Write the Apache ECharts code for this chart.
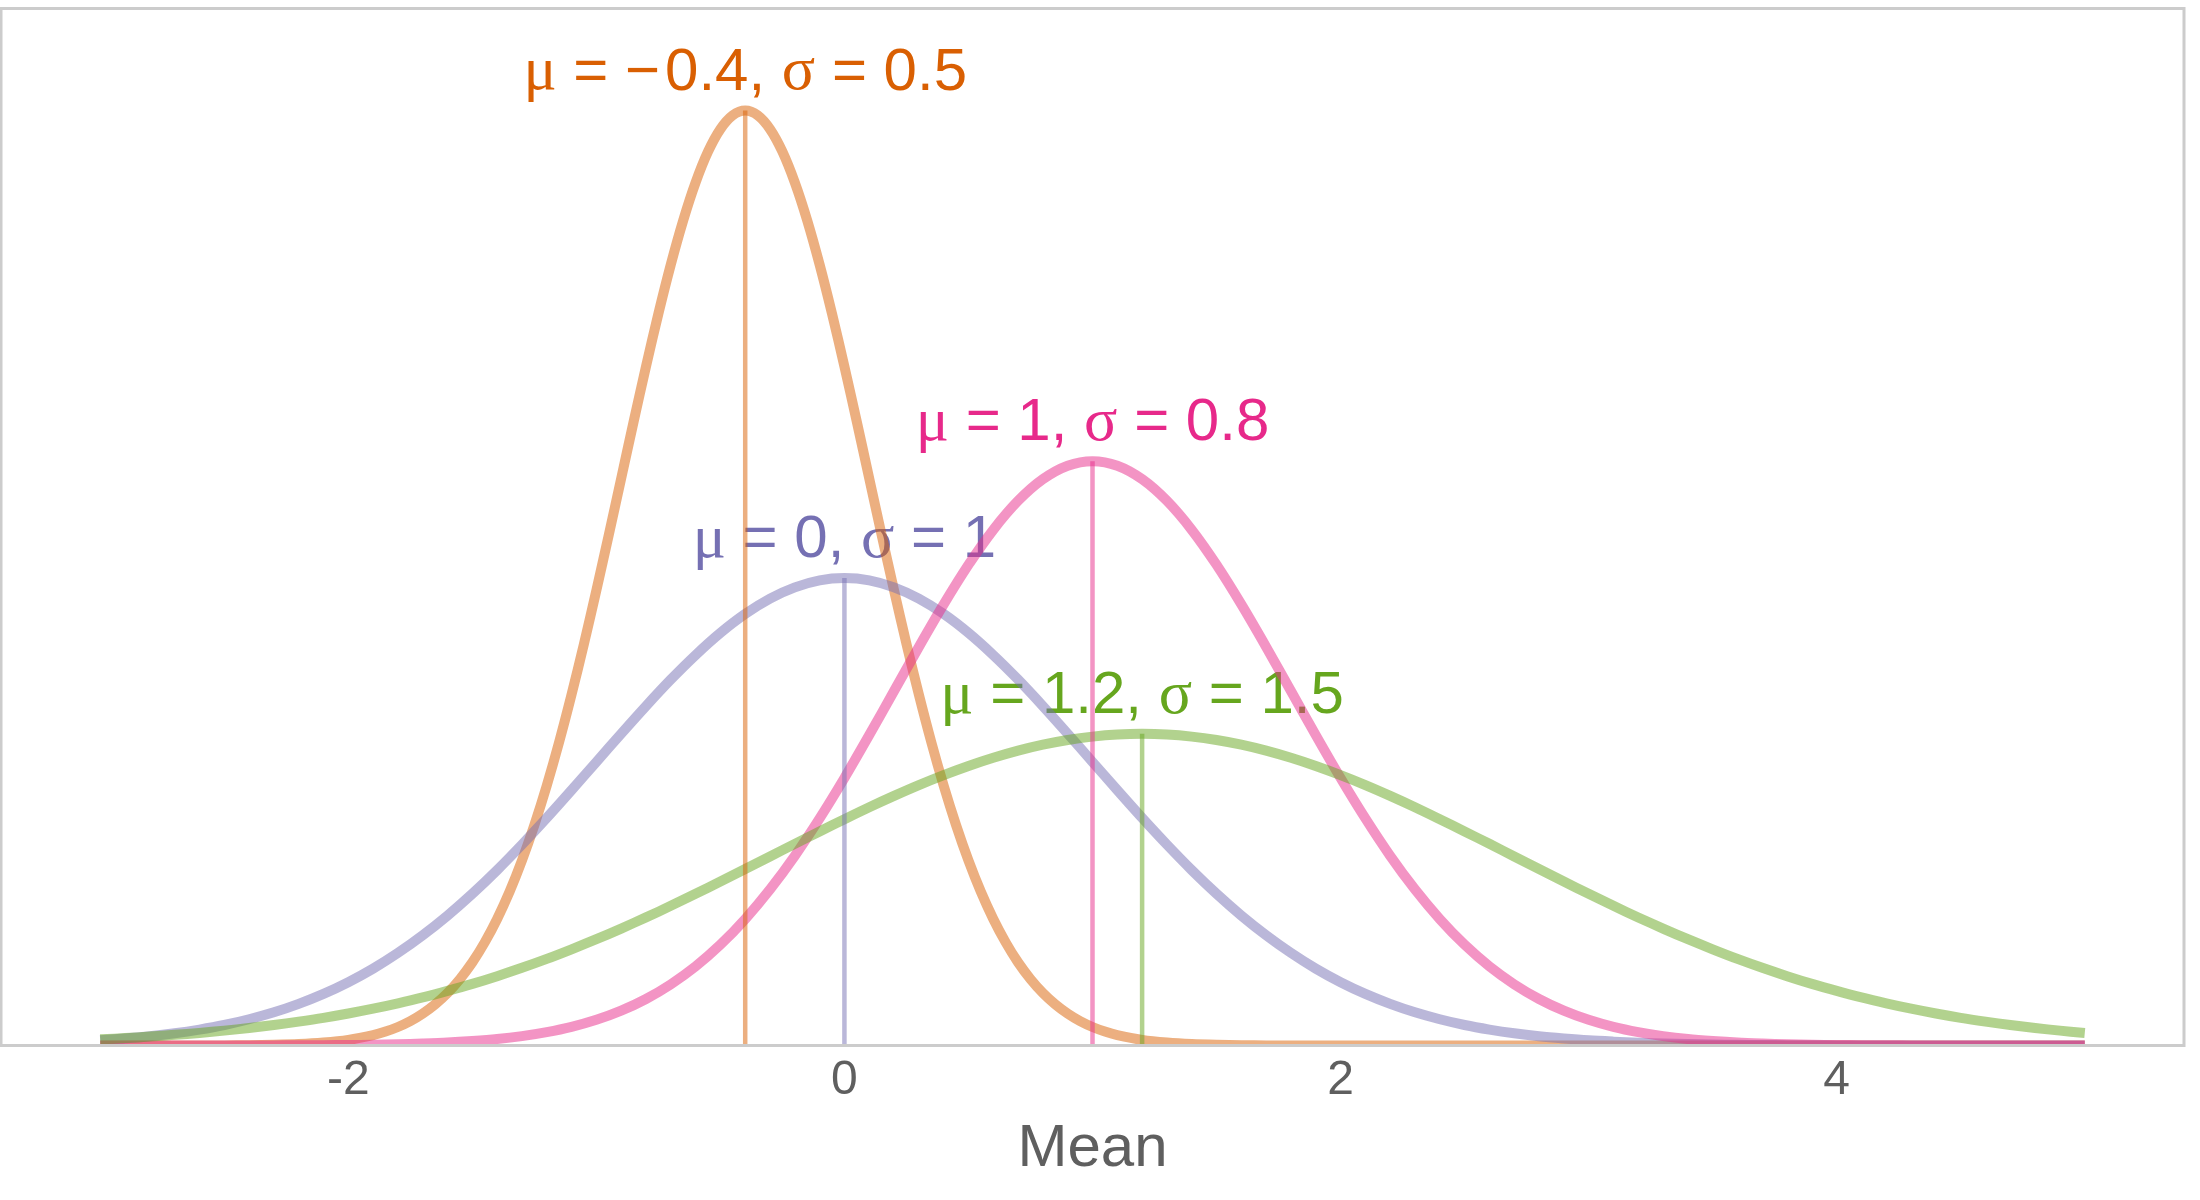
<!DOCTYPE html>
<html>
<head>
<meta charset="utf-8">
<script src="https://cdn.jsdelivr.net/npm/echarts@6/dist/echarts.min.js"></script>
<style>
  html, body { margin: 0; padding: 0; background: #ffffff; }
  #chart { width: 2200px; height: 1200px; }
</style>
</head>
<body>
<div id="chart"></div>
<script>
// x positions at which the wide density curves were read
const xs = [-3.0,-2.9,-2.8,-2.7,-2.6,-2.5,-2.4,-2.3,-2.2,-2.1,-2.0,-1.9,-1.8,-1.7,-1.6,-1.5,-1.4,-1.3,-1.2,-1.1,
  -1.0,-0.9,-0.8,-0.7,-0.6,-0.5,-0.4,-0.3,-0.2,-0.1,0.0,0.1,0.2,0.3,0.4,0.5,0.6,0.7,0.8,0.9,
  1.0,1.1,1.2,1.3,1.4,1.5,1.6,1.7,1.8,1.9,2.0,2.1,2.2,2.3,2.4,2.5,2.6,2.7,2.8,2.9,
  3.0,3.1,3.2,3.3,3.4,3.5,3.6,3.7,3.8,3.9,4.0,4.1,4.2,4.3,4.4,4.5,4.6,4.7,4.8,4.9,5.0];

// x positions for the narrow orange curve (finer around its peak)
const xsOrange = [-3.0,-2.9,-2.8,-2.7,-2.6,-2.5,-2.4,-2.3,-2.2,-2.1,-2.0,
  -1.9,-1.85,-1.8,-1.75,-1.7,-1.65,-1.6,-1.55,-1.5,-1.45,-1.4,-1.35,-1.3,-1.25,-1.2,-1.15,-1.1,-1.05,-1.0,-0.95,
  -0.9,-0.85,-0.8,-0.75,-0.7,-0.65,-0.6,-0.55,-0.5,-0.45,-0.4,-0.35,-0.3,-0.25,-0.2,-0.15,-0.1,-0.05,0.0,0.05,
  0.1,0.15,0.2,0.25,0.3,0.35,0.4,0.45,0.5,0.55,0.6,0.65,0.7,0.75,0.8,0.85,0.9,0.95,1.0,1.05,1.1,
  1.2,1.3,1.4,1.5,1.6,1.7,1.8,1.9,2.0,2.1,2.2,2.3,2.4,2.5,2.6,2.7,2.8,2.9,
  3.0,3.1,3.2,3.3,3.4,3.5,3.6,3.7,3.8,3.9,4.0,4.1,4.2,4.3,4.4,4.5,4.6,4.7,4.8,4.9,5.0];

// mu = -0.4, sigma = 0.5 (orange)
const densOrange = [0,0,0,0,0,0.0001,0.0003,0.0006,0.0012,0.0025,0.0048,
  0.0089,0.0119,0.0158,0.0208,0.0272,0.0351,0.0448,0.0567,0.0709,0.0880,0.1080,0.1312,0.1579,0.1881,0.2218,0.2590,0.2995,0.3427,0.3884,0.4357,
  0.4839,0.5322,0.5794,0.6245,0.6664,0.7041,0.7365,0.7628,0.7821,0.7939,0.7979,0.7939,0.7821,0.7628,0.7365,0.7041,0.6664,0.6245,0.5794,0.5322,
  0.4839,0.4357,0.3884,0.3427,0.2995,0.2590,0.2218,0.1881,0.1579,0.1312,0.1080,0.0880,0.0709,0.0567,0.0448,0.0351,0.0272,0.0208,0.0158,0.0119,0.0089,
  0.0048,0.0025,0.0012,0.0006,0.0003,0.0001,0,0,0,0,0,0,0,0,0,0,0,0,
  0,0,0,0,0,0,0,0,0,0,0,0,0,0,0,0,0,0,0,0,0];

// mu = 0, sigma = 1 (purple)
const densPurple = [0.0044,0.0060,0.0079,0.0104,0.0136,0.0175,0.0224,0.0283,0.0355,0.0440,0.0540,0.0656,0.0790,0.0941,0.1109,0.1295,0.1497,0.1714,0.1942,0.2179,
  0.2420,0.2661,0.2897,0.3123,0.3332,0.3521,0.3683,0.3814,0.3910,0.3970,0.3989,0.3970,0.3910,0.3814,0.3683,0.3521,0.3332,0.3123,0.2897,0.2661,
  0.2420,0.2179,0.1942,0.1714,0.1497,0.1295,0.1109,0.0941,0.0790,0.0656,0.0540,0.0440,0.0355,0.0283,0.0224,0.0175,0.0136,0.0104,0.0079,0.0060,
  0.0044,0.0033,0.0024,0.0017,0.0012,0.0009,0.0006,0.0004,0.0003,0.0002,0.0001,0.0001,0,0,0,0,0,0,0,0,0];

// mu = 1, sigma = 0.8 (pink)
const densPink = [0,0,0,0,0,0,0.0001,0.0001,0.0002,0.0003,0.0004,0.0007,0.0011,0.0017,0.0025,0.0038,0.0055,0.0080,0.0114,0.0159,
  0.0219,0.0297,0.0397,0.0522,0.0675,0.0860,0.1079,0.1332,0.1619,0.1938,0.2283,0.2649,0.3025,0.3401,0.3764,0.4102,0.4401,0.4648,0.4833,0.4948,
  0.4987,0.4948,0.4833,0.4648,0.4401,0.4102,0.3764,0.3401,0.3025,0.2649,0.2283,0.1938,0.1619,0.1332,0.1079,0.0860,0.0675,0.0522,0.0397,0.0297,
  0.0219,0.0159,0.0114,0.0080,0.0055,0.0038,0.0025,0.0017,0.0011,0.0007,0.0004,0.0003,0.0002,0.0001,0.0001,0,0,0,0,0,0];

// mu = 1.2, sigma = 1.5 (green)
const densGreen = [0.0053,0.0063,0.0076,0.0091,0.0107,0.0127,0.0149,0.0175,0.0204,0.0236,0.0273,0.0314,0.0360,0.0410,0.0466,0.0526,0.0592,0.0663,0.0739,0.0821,
  0.0907,0.0998,0.1093,0.1192,0.1295,0.1399,0.1506,0.1613,0.1721,0.1827,0.1931,0.2033,0.2130,0.2222,0.2307,0.2385,0.2455,0.2516,0.2567,0.2607,
  0.2636,0.2654,0.2660,0.2654,0.2636,0.2607,0.2567,0.2516,0.2455,0.2385,0.2307,0.2222,0.2130,0.2033,0.1931,0.1827,0.1721,0.1613,0.1506,0.1399,
  0.1295,0.1192,0.1093,0.0998,0.0907,0.0821,0.0739,0.0663,0.0592,0.0526,0.0466,0.0410,0.0360,0.0314,0.0273,0.0236,0.0204,0.0175,0.0149,0.0127,0.0107];

// annotation data: means, peak heights, label texts
const curveMeans = [-0.4, 0, 1, 1.2];
const curvePeaks = [0.7979, 0.3989, 0.4987, 0.2660];
const curveLabels = [
  '{g|μ} = −\u200a0.4, {g|σ} = 0.5',
  '{g|μ} = 0, {g|σ} = 1',
  '{g|μ} = 1, {g|σ} = 0.8',
  '{g|μ} = 1.2, {g|σ} = 1.5'
];
const curveColors = ['#D95F02', '#7570B3', '#E7298A', '#66A61E'];
const curveX = [xsOrange, xs, xs, xs];
const curveDens = [densOrange, densPurple, densPink, densGreen];

const xTicks = [-2, 0, 2, 4];
const xName = 'Mean';

const GRID = { left: 1, right: 16, top: 8.5, bottom: 154.5 };

const series = [];
// labels (beneath lines)
curveMeans.forEach((m, i) => {
  series.push({
    type: 'scatter',
    z: 1,
    symbolSize: 1,
    itemStyle: { color: 'rgba(0,0,0,0)', opacity: 1 },
    silent: true,
    data: [[m, curvePeaks[i]]],
    label: {
      show: true,
      position: 'top',
      distance: 6,
      formatter: curveLabels[i],
      color: curveColors[i],
      opacity: 1,
      fontFamily: 'Liberation Sans',
      fontSize: 60,
      rich: {
        g: { fontFamily: 'Liberation Serif', fontSize: 62, color: curveColors[i] }
      }
    }
  });
});
// curves
curveDens.forEach((d, i) => {
  const xv = curveX[i];
  series.push({
    type: 'line',
    z: 3,
    smooth: 0.3,
    symbol: 'none',
    data: xv.map((x, k) => [x, d[k]]),
    lineStyle: { color: curveColors[i], width: 10, opacity: 0.5, join: 'round' }
  });
});
// vertical mean lines
curveMeans.forEach((m, i) => {
  series.push({
    type: 'line',
    z: 3,
    symbol: 'none',
    data: [[m, 0], [m, curvePeaks[i]]],
    lineStyle: { color: curveColors[i], width: 4.5, opacity: 0.5 }
  });
});

const chart = echarts.init(document.getElementById('chart'), null, { renderer: 'canvas' });
chart.setOption({
  animation: false,
  backgroundColor: '#ffffff',
  textStyle: { fontFamily: 'Liberation Sans' },
  grid: { left: GRID.left, right: GRID.right, top: GRID.top, bottom: GRID.bottom, show: false },
  xAxis: {
    type: 'value',
    min: -3.4,
    max: 5.4,
    axisLine: { show: false },
    axisTick: { show: false },
    splitLine: { show: false },
    axisLabel: {
      customValues: xTicks,
      fontSize: 48,
      color: '#5f5f5f',
      margin: 11,
      fontFamily: 'Liberation Sans'
    },
    name: xName,
    nameLocation: 'middle',
    nameGap: 74,
    nameTextStyle: { fontSize: 60, color: '#5f5f5f', fontFamily: 'Liberation Sans' }
  },
  yAxis: {
    type: 'value',
    min: 0,
    max: 0.885,
    axisLine: { show: false },
    axisTick: { show: false },
    axisLabel: { show: false },
    splitLine: { show: false }
  },
  graphic: [
    {
      type: 'rect', z: 90, silent: true,
      shape: { x: 0, y: 1200 - GRID.bottom + 1.5, width: 2200, height: 5 },
      style: { fill: '#ffffff' }
    },
    {
      type: 'rect', z: 100, silent: true,
      shape: { x: GRID.left, y: GRID.top, width: 2200 - GRID.left - GRID.right, height: 1200 - GRID.top - GRID.bottom },
      style: { fill: 'none', stroke: '#cccccc', lineWidth: 3 }
    }
  ],
  series: series
});
</script>
</body>
</html>
